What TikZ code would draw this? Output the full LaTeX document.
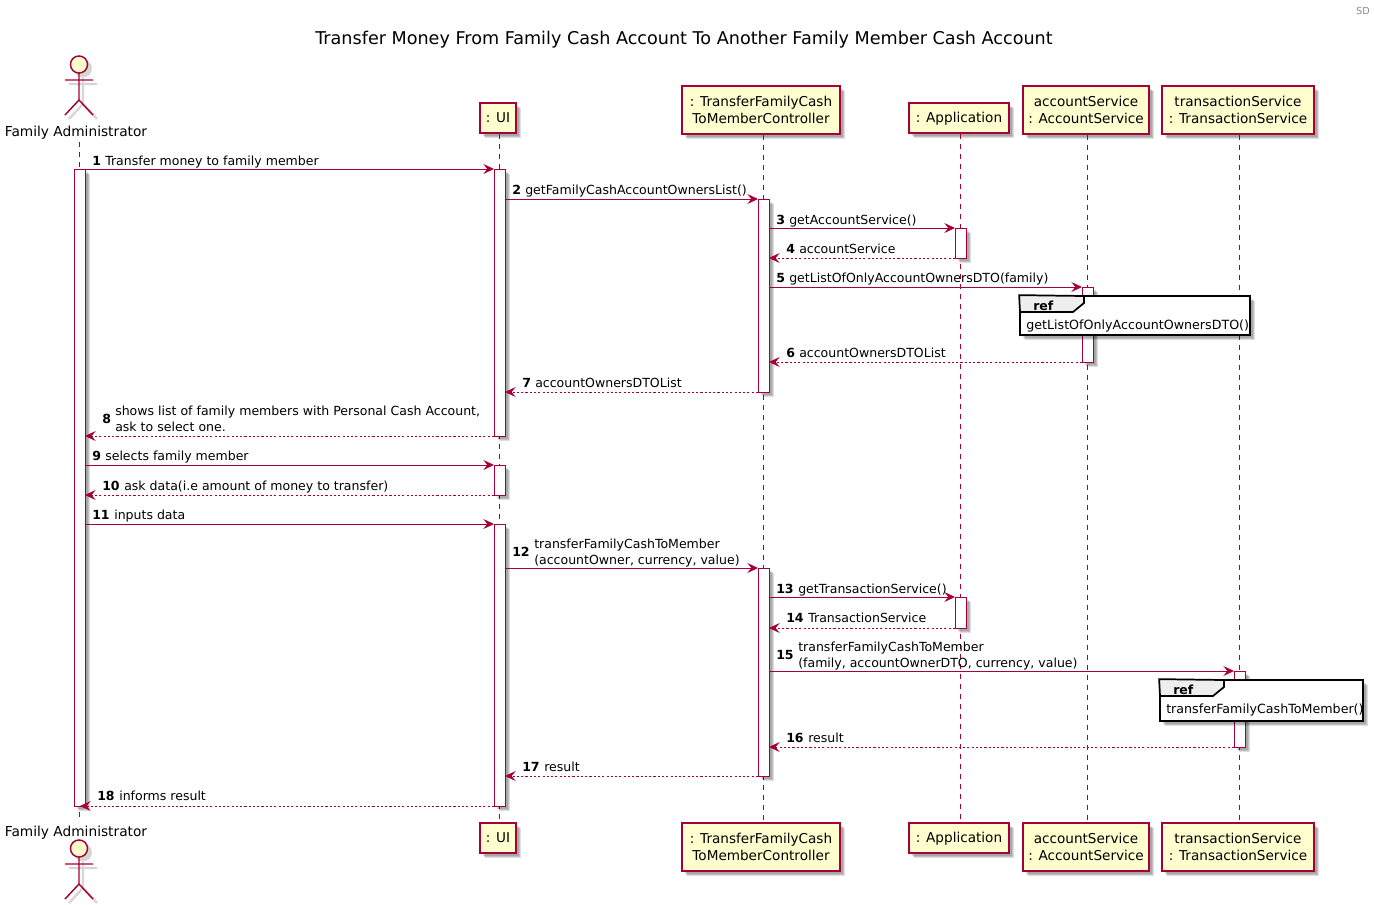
\documentclass[tikz,border=0pt]{standalone}
\usepackage{fontspec}
\setmainfont{DejaVu Sans}
\usetikzlibrary{arrows.meta}
\definecolor{pcrim}{HTML}{A80036}
\definecolor{pfill}{HTML}{FEFECE}
\definecolor{tabgray}{HTML}{EEEEEE}
\tikzset{
  softshadow/.style={
    preaction={fill=black,opacity=.13,transform canvas={shift={(2.2pt,-2.2pt)}}},
    preaction={fill=black,opacity=.13,transform canvas={shift={(3pt,-3pt)}}},
    preaction={fill=black,opacity=.13,transform canvas={shift={(3.8pt,-3.8pt)}}}},
  partbox/.style={draw=pcrim,fill=pfill,line width=1pt,softshadow,inner sep=0pt,align=center,font=\fontsize{10.2}{12.4}\selectfont},
  actbar/.style={draw=pcrim,fill=white,line width=.7pt,softshadow,inner sep=0pt},
  refbox/.style={draw=black,fill=white,line width=1.3pt,softshadow,inner sep=0pt},
  life/.style={draw=pcrim,line width=.7pt,dash pattern=on 3.75pt off 3.75pt},
  sync/.style={draw=pcrim,line width=.75pt,-{Stealth[length=8pt,width=7.5pt,inset=3pt]}},
  rply/.style={sync,dash pattern=on 1.6pt off 1.6pt},
  msgt/.style={anchor=base west,inner sep=0pt,font=\fontsize{9.4}{11.6}\selectfont,align=left},
  msgn/.style={msgt,font=\fontsize{9.4}{11.6}\selectfont\bfseries},
  reftag/.style={anchor=base west,inner sep=0pt,font=\fontsize{9.4}{11.6}\selectfont\bfseries},
  reftext/.style={anchor=base west,inner sep=0pt,font=\fontsize{9.5}{11.6}\selectfont},
  stick/.style={draw=pcrim,line width=1.1pt},
  stickshadow/.style={draw=black,opacity=.16,line width=1.8pt},
  headc/.style={circle,draw=pcrim,fill=pfill,line width=1.1pt,minimum size=12.8pt,inner sep=0pt},
  actorname/.style={inner sep=0pt,font=\fontsize{10.3}{12.4}\selectfont},
}
% one-line participant text, centred on its capitals whatever its descenders
\newcommand{\oneline}[1]{\raisebox{-3.7pt}[0pt][0pt]{#1}}
% name, x1,y1,x2,y2, style, text
\newcommand{\bx}[7]{\node[#6,minimum width={(#4-#2)*0.75pt},minimum height={(#5-#3)*0.75pt}] (#1) at ({(#2+#4)/2},{(#3+#5)/2}) {#7};}
% id, x1, x2, y, style, xnum, xtext, ybaseline, text
\newcommand{\msg}[9]{%
  \coordinate (m#1a) at (#2,#4);\coordinate (m#1b) at (#3,#4);
  \draw[#5] (m#1a) -- (m#1b);
  \node[msgn] (n#1) at (#6,#8) {#1};
  \node[msgt] (t#1) at (#7,#8) {#9};}
% two-line label: the number sits between the lines, the given baseline is the number's
\newcommand{\msgtwo}[9]{%
  \coordinate (m#1a) at (#2,#4);\coordinate (m#1b) at (#3,#4);
  \draw[#5] (m#1a) -- (m#1b);
  \node[msgn] (n#1) at (#6,#8) {#1};
  \node[msgt] (t#1) at (#7,#8+8) {#9};}
% id, cx, y of head centre
\newcommand{\actor}[3]{%
  \begin{scope}[shift={(#2+4,#3+4)}]
    \fill[black,opacity=.16] (0,0) circle (9);
    \draw[stickshadow] (-14,15.5)--(14,15.5) (0,9)--(0,35.5) (-14,50.5)--(0,35.5)--(14,50.5);
  \end{scope}
  \begin{scope}[shift={(#2,#3)}]
    \draw[stick] (0,8)--(0,35.5) (-14,15.5)--(14,15.5) (-14,50.5)--(0,35.5)--(14,50.5);
    \node[headc] (#1) at (0,0) {};
  \end{scope}}
\begin{document}
\begin{tikzpicture}[x=0.75pt,y=-0.75pt]
\useasboundingbox (0,0) rectangle (1374,904);
\fill[white] (0,0) rectangle (1374,904);
\node[inner sep=0pt,text=black!45,font=\fontsize{7.3}{9}\selectfont] (sd) at (1363,11) {SD};
\node[inner sep=0pt,font=\fontsize{13.2}{16}\selectfont] (title) at (684,39.5) {Transfer Money From Family Cash Account To Another Family Member Cash Account};

% participants
\bx{hU}{480}{103}{516}{133}{partbox}{\oneline{: UI}}
\bx{hC}{682}{86}{840}{134}{partbox}{: TransferFamilyCash\\ToMemberController}
\bx{hP}{909}{103}{1009}{133}{partbox}{\oneline{: Application}}
\bx{hA}{1023}{86}{1149}{134}{partbox}{accountService\\: AccountService}
\bx{hT}{1162}{86}{1314}{134}{partbox}{transactionService\\: TransactionService}
\bx{fU}{480}{823}{516}{853}{partbox}{\oneline{: UI}}
\bx{fC}{682}{823}{840}{871}{partbox}{: TransferFamilyCash\\ToMemberController}
\bx{fP}{909}{823}{1009}{853}{partbox}{\oneline{: Application}}
\bx{fA}{1023}{823}{1149}{871}{partbox}{accountService\\: AccountService}
\bx{fT}{1162}{823}{1314}{871}{partbox}{transactionService\\: TransactionService}
\node[actorname] (hFname) at (76,132.5) {Family Administrator};
\node[actorname] (fFname) at (76,832.5) {Family Administrator};
\actor{hF}{79}{64.5}
\actor{fF}{79}{848.5}

% lifelines
\draw[life] ([xshift=2.25pt,yshift=-2pt]hFname.south) -- ([xshift=2.25pt,yshift=3pt]fFname.north);
\draw[life] ([xshift=.75pt]hU.south) -- ([xshift=.75pt]fU.north);
\draw[life] ([xshift=1.5pt]hC.south) -- ([xshift=1.5pt]fC.north);
\draw[life] ([xshift=.75pt]hP.south) -- ([xshift=.75pt]fP.north);
\draw[life] ([xshift=.75pt]hA.south) -- ([xshift=.75pt]fA.north);
\draw[life] ([xshift=.75pt]hT.south) -- ([xshift=.75pt]fT.north);

% activation bars
\bx{aF}{74}{169}{85}{806}{actbar}{}
\bx{aUa}{494}{169}{505}{436}{actbar}{}
\bx{aUb}{494}{465}{505}{495}{actbar}{}
\bx{aUc}{494}{524}{505}{806}{actbar}{}
\bx{aCa}{758}{199}{769}{392}{actbar}{}
\bx{aCb}{758}{568}{769}{776}{actbar}{}
\bx{aPa}{955}{228}{966}{258}{actbar}{}
\bx{aPb}{955}{597}{966}{628}{actbar}{}
\bx{aAa}{1082}{287}{1093}{362}{actbar}{}
\bx{aTa}{1234}{671}{1245}{747}{actbar}{}

% messages
\msg{1}{85}{494}{169}{sync}{92}{105}{165}{Transfer money to family member}
\msg{2}{505}{758}{199}{sync}{512}{525}{194}{getFamilyCashAccountOwnersList()}
\msg{3}{769}{955}{228}{sync}{776}{789}{224}{getAccountService()}
\msg{4}{955}{769}{258}{rply}{786}{799}{253}{accountService}
\msg{5}{769}{1082}{287}{sync}{776}{789}{282}{getListOfOnlyAccountOwnersDTO(family)}
\msg{6}{1082}{769}{362}{rply}{786}{799}{357}{accountOwnersDTOList}
\msg{7}{758}{505}{392}{rply}{522}{535}{387}{accountOwnersDTOList}
\msgtwo{8}{494}{85}{436}{rply}{102}{115}{423}{shows list of family members with Personal Cash Account,\\ask to select one.}
\msg{9}{85}{494}{465}{sync}{92}{105}{460}{selects family member}
\msg{10}{494}{85}{495}{rply}{102}{124}{490}{ask data(i.e amount of money to transfer)}
\msg{11}{85}{494}{524}{sync}{92}{114}{519}{inputs data}
\msgtwo{12}{505}{758}{568}{sync}{512}{534}{556}{transferFamilyCashToMember\\(accountOwner, currency, value)}
\msg{13}{769}{955}{597}{sync}{776}{798}{593}{getTransactionService()}
\msg{14}{955}{769}{628}{rply}{786}{808}{622}{TransactionService}
\msgtwo{15}{769}{1234}{671}{sync}{776}{798}{659}{transferFamilyCashToMember\\(family, accountOwnerDTO, currency, value)}
\msg{16}{1234}{769}{747}{rply}{786}{808}{742}{result}
\msg{17}{758}{505}{776}{rply}{522}{544}{771}{result}
\msg{18}{494}{80}{806}{rply}{97}{119}{800}{informs result}

% refs
\bx{rA}{1020}{296}{1250}{335}{refbox}{}
\draw[black,line width=1.3pt,fill=tabgray] (rA.north west) -- (1084,296) -- (1084,303) -- (1073,312) -- (1020,312) -- cycle;
\node[reftag] (rAk) at (1033,310) {ref};
\node[reftext] (rAt) at (1026,329) {getListOfOnlyAccountOwnersDTO()};
\bx{rT}{1160}{680}{1363}{721}{refbox}{}
\draw[black,line width=1.3pt,fill=tabgray] (rT.north west) -- (1224,680) -- (1224,687) -- (1213,696) -- (1160,696) -- cycle;
\node[reftag] (rTk) at (1173,694) {ref};
\node[reftext] (rTt) at (1166,713) {transferFamilyCashToMember()};
\end{tikzpicture}
\end{document}
